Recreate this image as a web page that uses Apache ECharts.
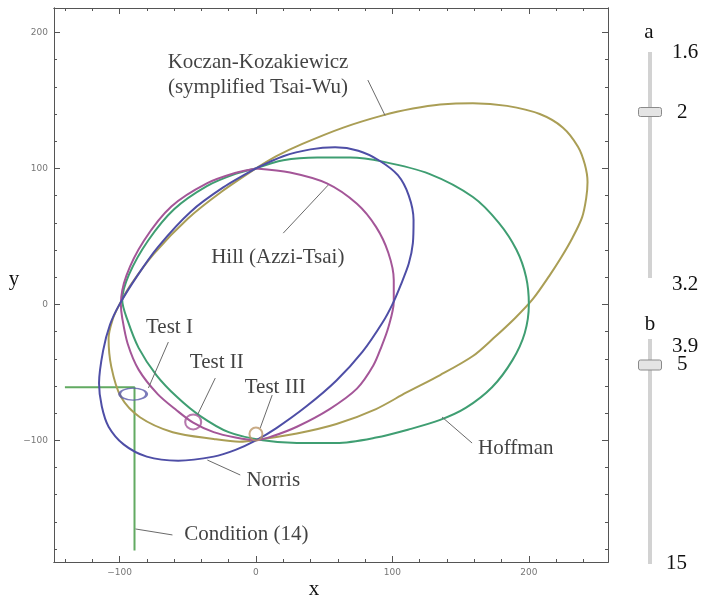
<!DOCTYPE html>
<html><head><meta charset="utf-8">
<script src="https://cdn.jsdelivr.net/npm/echarts@6/dist/echarts.min.js"></script>
<style>html,body{margin:0;padding:0;background:#fff}#c{width:701px;height:598px}</style>
</head><body><div id="c"></div>
<script>
// ---- tick values ----
const xMajor = [-100, 0, 100, 200];
const xMinor = [-140, -120, -80, -60, -40, -20, 20, 40, 60, 80, 120, 140, 160, 180, 220, 240];
const yMajor = [-100, 0, 100, 200];
const yMinor = [-180, -160, -140, -120, -80, -60, -40, -20, 20, 40, 60, 80, 120, 140, 160, 180];

// ---- curves ----
const norris = [[0,100],[20,109],[40,114],[58,115.5],[75,113],[90,106],[104,95],[112,80],[115.5,62],[115,45],[112,30],[106,14],[100,0],[93,-13],[78,-35],[59,-56],[37,-75],[15,-91],[0,-100],[-15,-107],[-31,-112],[-57,-115],[-80,-112],[-97,-103],[-108,-90],[-113,-75],[-115,-58],[-112,-34],[-107,-15],[-100,0],[-87,21],[-72,42],[-48,68],[-24,86],[0,100]];
const hill = [[0,100],[25,97],[52,89],[74,74],[88,57],[97,38],[101,18],[101,2],[97,-17],[92,-31],[86,-45],[74,-62],[54,-77],[30,-90],[12,-97],[0,-100],[-15,-98],[-31,-94],[-46,-87],[-58,-78],[-72,-66],[-86,-48],[-94,-29],[-98,-10],[-99,0],[-95,21],[-82,47],[-62,72],[-36,89],[-14,97],[0,100]];
const hoffman = [[0,100],[20,106],[45,108],[69,108],[93,105],[127,96],[159,79],[178,60],[191,40],[198,20],[200,0],[197,-21],[188,-41],[173,-61],[154,-76],[135,-85],[112,-92],[88,-98],[59,-102],[30,-102],[5,-100],[-20,-94],[-41,-82],[-58,-68],[-73,-52],[-86,-32],[-94,-12],[-98,3],[-93,22],[-79,47],[-60,70],[-36,87],[-15,96],[0,100]];
const koczan = [[0,100],[15,109],[34,118],[64,130],[93,139],[115,144],[135,147],[159,148],[184,146],[208,140],[225,130],[236,116],[241,103],[243,90],[242,78],[239,64],[232,49],[224,35],[215,21],[203,4],[190,-10],[174,-25],[159,-38],[135,-52],[110,-65],[88,-77],[59,-88],[30,-95],[5,-99],[-12,-101],[-31,-99],[-61,-94],[-85,-83],[-99,-68],[-106,-46],[-108,-25],[-105,-11],[-100,0],[-92,14],[-75,37],[-50,63],[-25,83],[0,100]];
const condition14 = [[-140,-61],[-89,-61],[-89,-181]];

// ---- test points ----
const testI = [-90, -66];
const testII = [-46, -86.5];
const testIII = [0, -95.4];

// ---- leader lines ----
const leaders = [
  [[82,165],[94.6,139]],
  [[52.9,87.7],[20,52.4]],
  [[-64.2,-27.7],[-78.8,-61.5]],
  [[-29.8,-54.2],[-42.9,-81.4]],
  [[11.9,-66.7],[3.1,-91]],
  [[-35.6,-114.5],[-11.5,-125.5]],
  [[136.4,-82.9],[158.4,-102]],
  [[-88.3,-165.2],[-61.2,-169.6]]
];

// ---- annotation texts ----
const labelTexts = ['Koczan-Kozakiewicz\n(symplified Tsai-Wu)', 'Hill (Azzi-Tsai)', 'Test I', 'Test II', 'Test III', 'Norris', 'Hoffman', 'Condition (14)'];
const labelPos = [[1.5,169],[16,34.8],[-63.4,-16.7],[-28.7,-42.4],[14.1,-61.5],[12.7,-129.2],[190.4,-105.7],[-7.1,-169.6]];

const X_MIN = -148, X_MAX = 258, Y_MIN = -189.5, Y_MAX = 218;
const frame = '#555';
const serif = 'Liberation Serif';
const textColor = '#111';
const fmt = v => String(v).replace('-', '\u2212');

function xAx(pos, vals, len, labels) {
  return {
    type: 'value', min: X_MIN, max: X_MAX, position: pos,
    axisLine: { show: true, onZero: false, lineStyle: { color: frame, width: 1 } },
    axisTick: { show: true, inside: true, length: len, customValues: vals, lineStyle: { color: frame } },
    axisLabel: labels ? { show: true, customValues: vals, formatter: fmt, fontSize: 9, color: '#777', margin: 6, fontFamily: 'DejaVu Sans' } : { show: false },
    splitLine: { show: false }
  };
}
function yAx(pos, vals, len, labels) {
  return {
    type: 'value', min: Y_MIN, max: Y_MAX, position: pos,
    axisLine: { show: true, onZero: false, lineStyle: { color: frame, width: 1 } },
    axisTick: { show: true, inside: true, length: len, customValues: vals, lineStyle: { color: frame } },
    axisLabel: labels ? { show: true, customValues: vals, formatter: fmt, fontSize: 9, color: '#777', margin: 6, fontFamily: 'DejaVu Sans' } : { show: false },
    splitLine: { show: false }
  };
}

const curveSeries = (name, data, color) => ({
  name, type: 'line', data, smooth: 0.3, showSymbol: false, symbol: 'none',
  lineStyle: { color, width: 2 }, xAxisIndex: 0, yAxisIndex: 0, z: 3, silent: true
});

const ellipsePath = 'path://M-1,0A1,1,0,1,0,1,0A1,1,0,1,0,-1,0Z';
const marker = (pt, size, color) => ({
  type: 'scatter', data: [pt], symbol: ellipsePath, symbolSize: size,
  itemStyle: { color: 'rgba(255,255,255,0)', borderColor: color, borderWidth: 2 }, z: 5, silent: true
});

const series = [
  curveSeries('Koczan', koczan, '#aa9e55'),
  curveSeries('Hoffman', hoffman, '#3f9e72'),
  curveSeries('Hill', hill, '#a45698'),
  curveSeries('Norris', norris, '#4e4ea6'),
  { type: 'line', data: condition14, showSymbol: false, symbol: 'none', lineStyle: { color: '#62aa62', width: 2 }, z: 2, silent: true },
  marker(testI, [27, 12], '#5a5aaa'),
  marker(testII, [16, 15], '#a45698'),
  marker(testIII, [13, 13], '#bb9668')
];
leaders.forEach(seg => series.push({
  type: 'line', data: seg, showSymbol: false, symbol: 'none',
  lineStyle: { color: '#6a6a6a', width: 1 }, z: 4, silent: true
}));
series.push({
  type: 'scatter', symbolSize: 1, itemStyle: { color: 'rgba(0,0,0,0)' }, z: 6, silent: true,
  data: labelPos.map((p, i) => ({ value: p, name: labelTexts[i] })),
  label: { show: true, position: 'inside', formatter: p => p.name, fontFamily: serif, fontSize: 21, color: textColor, textBorderWidth: 0, lineHeight: 25, align: 'center' }
});

const sText = (t, x, y, align) => ({ type: 'text', x, y, style: { text: t, font: '21px "Liberation Serif"', fill: textColor, textAlign: align || 'left', textVerticalAlign: 'middle' } });

const graphic = [
  // slider a
  { type: 'rect', shape: { x: 648, y: 52, width: 4, height: 226 }, style: { fill: '#d2d2d2' } },
  { type: 'rect', shape: { x: 638.5, y: 107.5, width: 23, height: 9, r: 2 }, style: { fill: '#e4e4e4', stroke: '#8a8a8a', lineWidth: 1 } },
  sText('a', 649, 32, 'center'),
  sText('1.6', 672, 52),
  sText('2', 677, 112),
  sText('3.2', 672, 284),
  // slider b
  { type: 'rect', shape: { x: 648, y: 339, width: 4, height: 225 }, style: { fill: '#d2d2d2' } },
  { type: 'rect', shape: { x: 638.5, y: 360, width: 23, height: 10, r: 2 }, style: { fill: '#e4e4e4', stroke: '#8a8a8a', lineWidth: 1 } },
  sText('b', 650, 324, 'center'),
  sText('3.9', 672, 346),
  sText('5', 677, 364),
  sText('15', 666, 563),
  // axis names
  sText('x', 314, 589, 'center'),
  sText('y', 14, 279, 'center')
];

const chart = echarts.init(document.getElementById('c'), null, { renderer: 'canvas' });
chart.setOption({
  animation: false,
  backgroundColor: '#fff',
  grid: { left: 54, right: 93, top: 8, bottom: 36, containLabel: false, outerBoundsMode: 'none' },
  xAxis: [
    xAx('bottom', xMajor, 6, true), xAx('bottom', xMinor, 3, false),
    xAx('top', xMajor, 6, false), xAx('top', xMinor, 3, false)
  ],
  yAxis: [
    yAx('left', yMajor, 6, true), yAx('left', yMinor, 3, false),
    yAx('right', yMajor, 6, false), yAx('right', yMinor, 3, false)
  ],
  series,
  graphic
});
</script></body></html>
